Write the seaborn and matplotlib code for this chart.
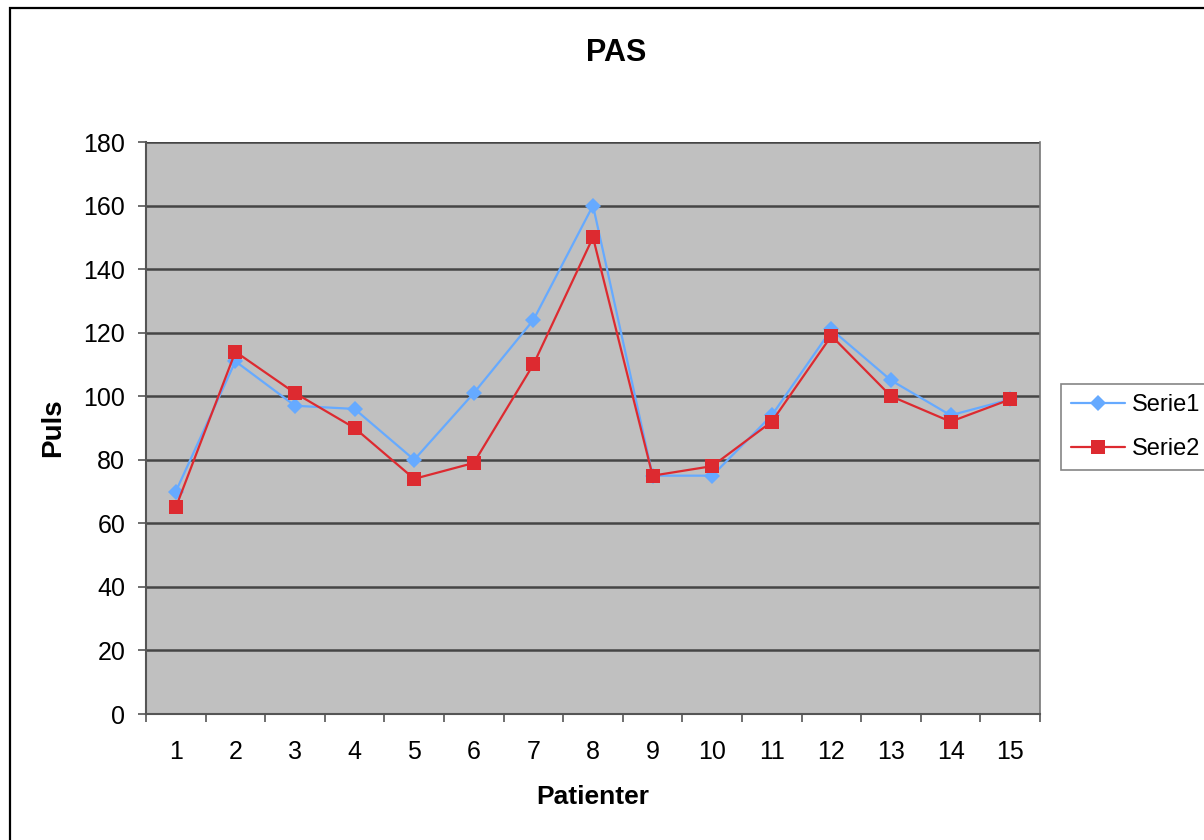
import numpy as np
import pandas as pd
import matplotlib
matplotlib.use("Agg")
import matplotlib.pyplot as plt
import seaborn as sns
from matplotlib.patches import Rectangle
from matplotlib.lines import Line2D

patients = list(range(1, 16))
serie1 = [70, 111, 97, 96, 80, 101, 124, 160, 75, 75, 94, 121, 105, 94, 99]
serie2 = [65, 114, 101, 90, 74, 79, 110, 150, 75, 78, 92, 119, 100, 92, 99]
y_ticks = [0, 20, 40, 60, 80, 100, 120, 140, 160, 180]

df = pd.DataFrame({
    "Patient": patients * 2,
    "Puls": serie1 + serie2,
    "Serie": ["Serie1"] * 15 + ["Serie2"] * 15,
})

sns.set_theme(style="white")
plt.rcParams['font.family'] = ['Liberation Sans', 'DejaVu Sans']
plt.rcParams['text.color'] = 'black'
plt.rcParams['axes.labelcolor'] = 'black'
plt.rcParams['xtick.color'] = 'black'
plt.rcParams['ytick.color'] = 'black'

fig = plt.figure(figsize=(12.04, 8.4), dpi=100)
ax = fig.add_axes([146/1204, 1-714/840, (1040-146)/1204, (714-142)/840])
ax.set_facecolor("#C0C0C0")

palette = {"Serie1": "#66AAFF", "Serie2": "#DD2A30"}
sns.lineplot(data=df, x="Patient", y="Puls", hue="Serie", style="Serie",
             markers={"Serie1": "D", "Serie2": "s"}, dashes=False,
             palette=palette, linewidth=1.6, ax=ax, legend=False)
for line, ms in zip(ax.lines, [8, 10]):
    line.set_markersize(ms)
    line.set_markeredgewidth(0)

ax.set_xlim(0.5, 15.5)
ax.set_ylim(0, 180)
ax.set_yticks(y_ticks)
ax.set_yticklabels([str(v) for v in y_ticks], fontsize=18)
ax.yaxis.grid(True, color="#454545", linewidth=1.8)
ax.set_axisbelow(True)

ax.set_xticks(np.arange(0.5, 16, 1.0))
ax.set_xticklabels([])
ax.set_xticks(patients, minor=True)
ax.set_xticklabels([str(p) for p in patients], minor=True, fontsize=18)
ax.tick_params(axis="x", which="major", direction="out", length=6, width=1.2, color="#555555", bottom=True)
ax.tick_params(axis="x", which="minor", length=0, pad=19, bottom=True, labelcolor="black")
ax.tick_params(axis="y", direction="out", length=6, width=1.2, color="#555555", left=True, pad=9, labelcolor="black")

for s in ["left", "bottom"]:
    ax.spines[s].set_color("#555555")
    ax.spines[s].set_linewidth(1.5)
ax.spines["right"].set_color("#777777")
ax.spines["right"].set_linewidth(1.2)
ax.spines["top"].set_visible(False)

ax.set_xlabel("Patienter", fontsize=19, fontweight="bold", labelpad=15, color="black")
ax.set_ylabel("Puls", fontsize=20, fontweight="bold", labelpad=12, color="black")
fig.text(616/1204, 1-53/840, "PAS", fontsize=22, fontweight="bold", ha="center", va="center", color="black")

handles = [
    Line2D([], [], color=palette["Serie1"], marker="D", markersize=8, markeredgewidth=0, linewidth=1.6),
    Line2D([], [], color=palette["Serie2"], marker="s", markersize=10, markeredgewidth=0, linewidth=1.6),
]
leg = fig.legend(handles, ["Serie1", "Serie2"], loc="upper left",
                 bbox_to_anchor=(1061/1204, 1-384/840), fontsize=17,
                 frameon=True, fancybox=False, handlelength=2.3,
                 borderpad=0.42, labelspacing=0.95, handletextpad=0.3, borderaxespad=0)
leg.get_frame().set_edgecolor("#666666")
leg.get_frame().set_linewidth(1.2)
for t in leg.get_texts():
    t.set_color("black")

fig.patches.append(Rectangle((10/1204, -0.01), 1.0, 1-8/840+0.01, transform=fig.transFigure,
                             fill=False, edgecolor="black", linewidth=1.6))

fig.savefig("out.png", dpi=100)
